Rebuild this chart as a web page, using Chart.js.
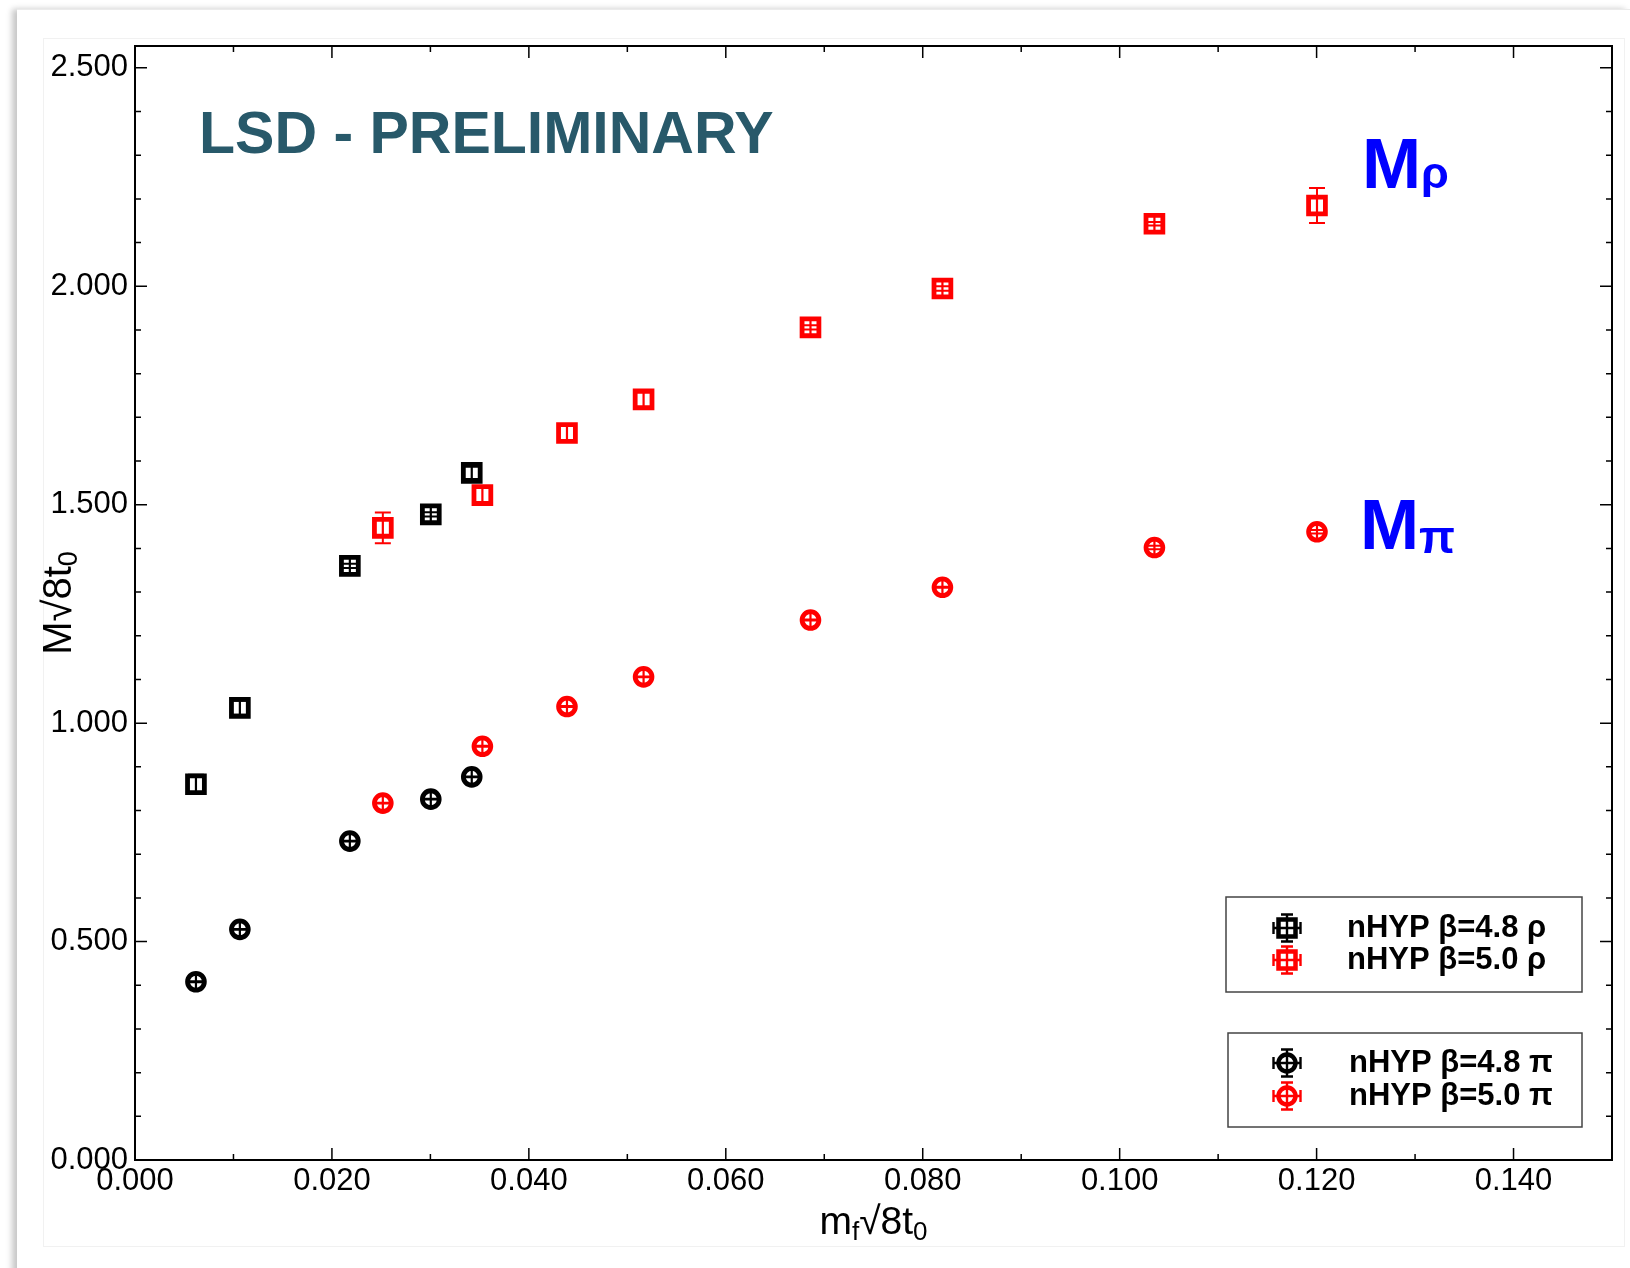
<!DOCTYPE html>
<html>
<head>
<meta charset="utf-8">
<script src="https://cdn.jsdelivr.net/npm/chart.js@4.4.1/dist/chart.umd.min.js"></script>
<style>
    html, body { margin: 0; padding: 0; background: #fff; }
    body { width: 1630px; height: 1268px; position: relative; overflow: hidden; }
    #sheet {
        position: absolute; left: 17px; top: 9px; right: 0; bottom: -20px;
        border-top: 1px solid #ebebeb;
        box-shadow: -5px 0 6px rgba(0, 0, 0, 0.22);
        background: #fff;
    }
    #panel {
        position: absolute; left: 43px; top: 38px; width: 1580px; height: 1207px;
        border: 1px solid #f1f1f1;
    }
    #plot { position: absolute; left: 0; top: 0; }
</style>
</head>
<body>
<div id="sheet"></div>
<div id="panel"></div>
<canvas id="plot" width="1630" height="1268"></canvas>
<script>
// bare quark mass m_f*sqrt(8t0) for the two couplings
const mfB48 = [0.00619, 0.01065, 0.02182, 0.03004, 0.03420];
const mfB50 = [0.02517, 0.03528, 0.04387, 0.05165, 0.06860, 0.08200, 0.10353, 0.12004];

// vector (rho) masses
const rhoB48 = [0.860, 1.035, 1.360, 1.478, 1.573];
const rhoB48Err = [0.022, 0.016, 0.005, 0.005, 0.014];
const rhoB50 = [1.447, 1.522, 1.664, 1.741, 1.906, 1.995, 2.143, 2.185];
const rhoB50Err = [0.035, 0.016, 0.016, 0.016, 0.005, 0.005, 0.004, 0.040];

// pseudoscalar (pi) masses
const piB48 = [0.408, 0.528, 0.730, 0.826, 0.877];
const piB48Err = [0.001, 0.001, 0.001, 0.001, 0.001];
const piB50 = [0.817, 0.947, 1.038, 1.106, 1.236, 1.311, 1.402, 1.438];
const piB50Err = [0.001, 0.001, 0.001, 0.001, 0.001, 0.001, 0.004, 0.004];

// uncertainty on m_f itself is negligible
const mfErr = 0.00001;

const legendLabels = ['nHYP β=4.8 ρ', 'nHYP β=5.0 ρ', 'nHYP β=4.8 π', 'nHYP β=5.0 π'];

const FONT = '"Liberation Sans", Arial, Helvetica, sans-serif';

const toPoints = (xs, ys) => xs.map((x, i) => ({ x: x, y: ys[i] }));

function series(label, xs, ys, errs, color, style) {
    const r = style === 'rect' ? 11.9 : 8.4;
    return {
        label: label,
        data: toPoints(xs, ys),
        errors: errs,
        showLine: false,
        pointStyle: style,
        pointRadius: r,
        pointHoverRadius: r,
        borderWidth: 4.8,
        pointBorderWidth: 4.8,
        borderColor: color,
        backgroundColor: '#fff'
    };
}

// xy error bars with caps, drawn over the symbols
const errorBars = {
    id: 'errorBars',
    afterDatasetsDraw(chart) {
        const { ctx, scales: { x, y } } = chart;
        const cap = 8;
        ctx.save();
        chart.data.datasets.forEach((ds, i) => {
            const meta = chart.getDatasetMeta(i);
            ctx.strokeStyle = ds.borderColor;
            ctx.lineWidth = 2;
            meta.data.forEach((pt, j) => {
                const p = ds.data[j];
                const top = y.getPixelForValue(p.y + ds.errors[j]);
                const bot = y.getPixelForValue(p.y - ds.errors[j]);
                const lft = x.getPixelForValue(p.x - mfErr);
                const rgt = x.getPixelForValue(p.x + mfErr);
                ctx.beginPath();
                ctx.moveTo(pt.x, top); ctx.lineTo(pt.x, bot);
                ctx.moveTo(pt.x - cap, top); ctx.lineTo(pt.x + cap, top);
                ctx.moveTo(pt.x - cap, bot); ctx.lineTo(pt.x + cap, bot);
                ctx.moveTo(lft, pt.y); ctx.lineTo(rgt, pt.y);
                ctx.moveTo(lft, pt.y - cap); ctx.lineTo(lft, pt.y + cap);
                ctx.moveTo(rgt, pt.y - cap); ctx.lineTo(rgt, pt.y + cap);
                ctx.stroke();
            });
        });
        ctx.restore();
    }
};

// box frame with inward major/minor ticks on all four sides
const frame = {
    id: 'frame',
    beforeDatasetsDraw(chart) {
        const { ctx, chartArea: a, scales: { x, y } } = chart;
        ctx.save();
        ctx.strokeStyle = '#000';
        ctx.lineWidth = 1.5;
        ctx.beginPath();
        for (let k = 1; k < 15; k++) {
            const px = x.getPixelForValue(k * 0.01);
            const len = k % 2 === 0 ? 12 : 6;
            ctx.moveTo(px, a.bottom); ctx.lineTo(px, a.bottom - len);
            ctx.moveTo(px, a.top); ctx.lineTo(px, a.top + len);
        }
        for (let k = 1; k <= 25; k++) {
            const py = y.getPixelForValue(k * 0.1);
            const len = k % 5 === 0 ? 12 : 6;
            ctx.moveTo(a.left, py); ctx.lineTo(a.left + len, py);
            ctx.moveTo(a.right, py); ctx.lineTo(a.right - len, py);
        }
        ctx.stroke();
        ctx.lineWidth = 2;
        ctx.strokeRect(a.left, a.top, a.right - a.left, a.bottom - a.top);
        ctx.restore();
    }
};

// text with a lowered, smaller trailing part; returns the x where it ends
function drawSub(ctx, x, y, main, sub, mainFont, subFont, drop) {
    ctx.font = mainFont;
    ctx.fillText(main, x, y);
    const w = ctx.measureText(main).width;
    ctx.font = subFont;
    ctx.fillText(sub, x + w, y + drop);
    return x + w + ctx.measureText(sub).width;
}

function legendSymbol(ctx, cx, cy, color, style) {
    ctx.strokeStyle = color;
    ctx.lineWidth = 4.5;
    ctx.beginPath();
    if (style === 'rect') ctx.rect(cx - 8.5, cy - 8.5, 17, 17);
    else ctx.arc(cx, cy, 8.5, 0, Math.PI * 2);
    ctx.stroke();
    ctx.lineWidth = 2.4;
    ctx.beginPath();
    ctx.moveTo(cx, cy - 13.5); ctx.lineTo(cx, cy + 13.5);
    ctx.moveTo(cx - 13.5, cy); ctx.lineTo(cx + 13.5, cy);
    ctx.moveTo(cx - 6, cy - 13.5); ctx.lineTo(cx + 6, cy - 13.5);
    ctx.moveTo(cx - 6, cy + 13.5); ctx.lineTo(cx + 6, cy + 13.5);
    ctx.moveTo(cx - 13.5, cy - 6); ctx.lineTo(cx - 13.5, cy + 6);
    ctx.moveTo(cx + 13.5, cy - 6); ctx.lineTo(cx + 13.5, cy + 6);
    ctx.stroke();
}

const notes = {
    id: 'notes',
    afterDraw(chart) {
        const { ctx, chartArea: a, scales: { x, y } } = chart;
        ctx.save();
        ctx.textBaseline = 'alphabetic';
        ctx.textAlign = 'left';

        ctx.fillStyle = '#28596a';
        ctx.font = 'bold 59px ' + FONT;
        ctx.fillText('LSD - PRELIMINARY', x.getPixelForValue(0.0065), y.getPixelForValue(2.304));

        ctx.fillStyle = '#0000ff';
        drawSub(ctx, x.getPixelForValue(0.1246), y.getPixelForValue(2.224), 'M', 'ρ',
            'bold 71px ' + FONT, 'bold 45px ' + FONT, 0);
        drawSub(ctx, x.getPixelForValue(0.1244), y.getPixelForValue(1.399), 'M', 'π',
            'bold 71px ' + FONT, 'bold 47px ' + FONT, 4);

        // axis titles
        ctx.fillStyle = '#000';
        const big = '39px ' + FONT, small = '26px ' + FONT;
        ctx.font = big;
        let w = ctx.measureText('m√8t').width;
        ctx.font = small;
        w += ctx.measureText('f0').width;
        let cx = (a.left + a.right) / 2 - w / 2;
        cx = drawSub(ctx, cx, 1234, 'm', 'f', big, small, 6);
        drawSub(ctx, cx, 1234, '√8t', '0', big, small, 6);

        ctx.save();
        ctx.font = '40px ' + FONT;
        let wy = ctx.measureText('M√8t').width;
        ctx.font = '27px ' + FONT;
        wy += ctx.measureText('0').width;
        ctx.translate(71, (a.top + a.bottom) / 2 + wy / 2);
        ctx.rotate(-Math.PI / 2);
        drawSub(ctx, 0, 0, 'M√8t', '0', '40px ' + FONT, '27px ' + FONT, 6);
        ctx.restore();

        // two legend boxes: rho sets and pi sets
        const boxes = [
            { l: 1226, t: 897, r: 1582, b: 992, sets: [0, 1], rows: [928, 960] },
            { l: 1228, t: 1033, r: 1582, b: 1127, sets: [2, 3], rows: [1063, 1096] }
        ];
        const ds = chart.data.datasets;
        boxes.forEach(bx => {
            ctx.fillStyle = '#fff';
            ctx.fillRect(bx.l, bx.t, bx.r - bx.l, bx.b - bx.t);
            ctx.strokeStyle = '#444';
            ctx.lineWidth = 1.5;
            ctx.strokeRect(bx.l, bx.t, bx.r - bx.l, bx.b - bx.t);
            bx.sets.forEach((k, n) => {
                legendSymbol(ctx, 1287, bx.rows[n], ds[k].borderColor, ds[k].pointStyle);
                ctx.fillStyle = '#000';
                ctx.font = 'bold 31px ' + FONT;
                ctx.textBaseline = 'middle';
                ctx.fillText(legendLabels[k], bx.l + 121, bx.rows[n]);
                ctx.textBaseline = 'alphabetic';
            });
        });
        ctx.restore();
    }
};

new Chart(document.getElementById('plot'), {
    type: 'scatter',
    data: {
        datasets: [
            series(legendLabels[0], mfB48, rhoB48, rhoB48Err, '#000000', 'rect'),
            series(legendLabels[1], mfB50, rhoB50, rhoB50Err, '#ff0000', 'rect'),
            series(legendLabels[2], mfB48, piB48, piB48Err, '#000000', 'circle'),
            series(legendLabels[3], mfB50, piB50, piB50Err, '#ff0000', 'circle')
        ]
    },
    options: {
        responsive: false,
        animation: false,
        events: [],
        layout: { padding: { top: 46, right: 18, left: 0, bottom: 0 } },
        plugins: { legend: { display: false }, tooltip: { enabled: false } },
        scales: {
            x: {
                type: 'linear',
                min: 0, max: 0.15,
                grid: { display: false },
                border: { display: false },
                ticks: {
                    stepSize: 0.02,
                    includeBounds: false,
                    padding: -5,
                    color: '#000',
                    font: { family: FONT, size: 31 },
                    callback: v => v.toFixed(3)
                },
                afterFit: s => { s.height = 108; }
            },
            y: {
                type: 'linear',
                min: 0, max: 2.55,
                grid: { display: false },
                border: { display: false },
                ticks: {
                    stepSize: 0.5,
                    includeBounds: false,
                    padding: -1,
                    color: '#000',
                    font: { family: FONT, size: 31 },
                    callback: v => v.toFixed(3)
                },
                afterFit: s => { s.width = 135; }
            }
        }
    },
    plugins: [frame, errorBars, notes]
});
</script>
</body>
</html>
